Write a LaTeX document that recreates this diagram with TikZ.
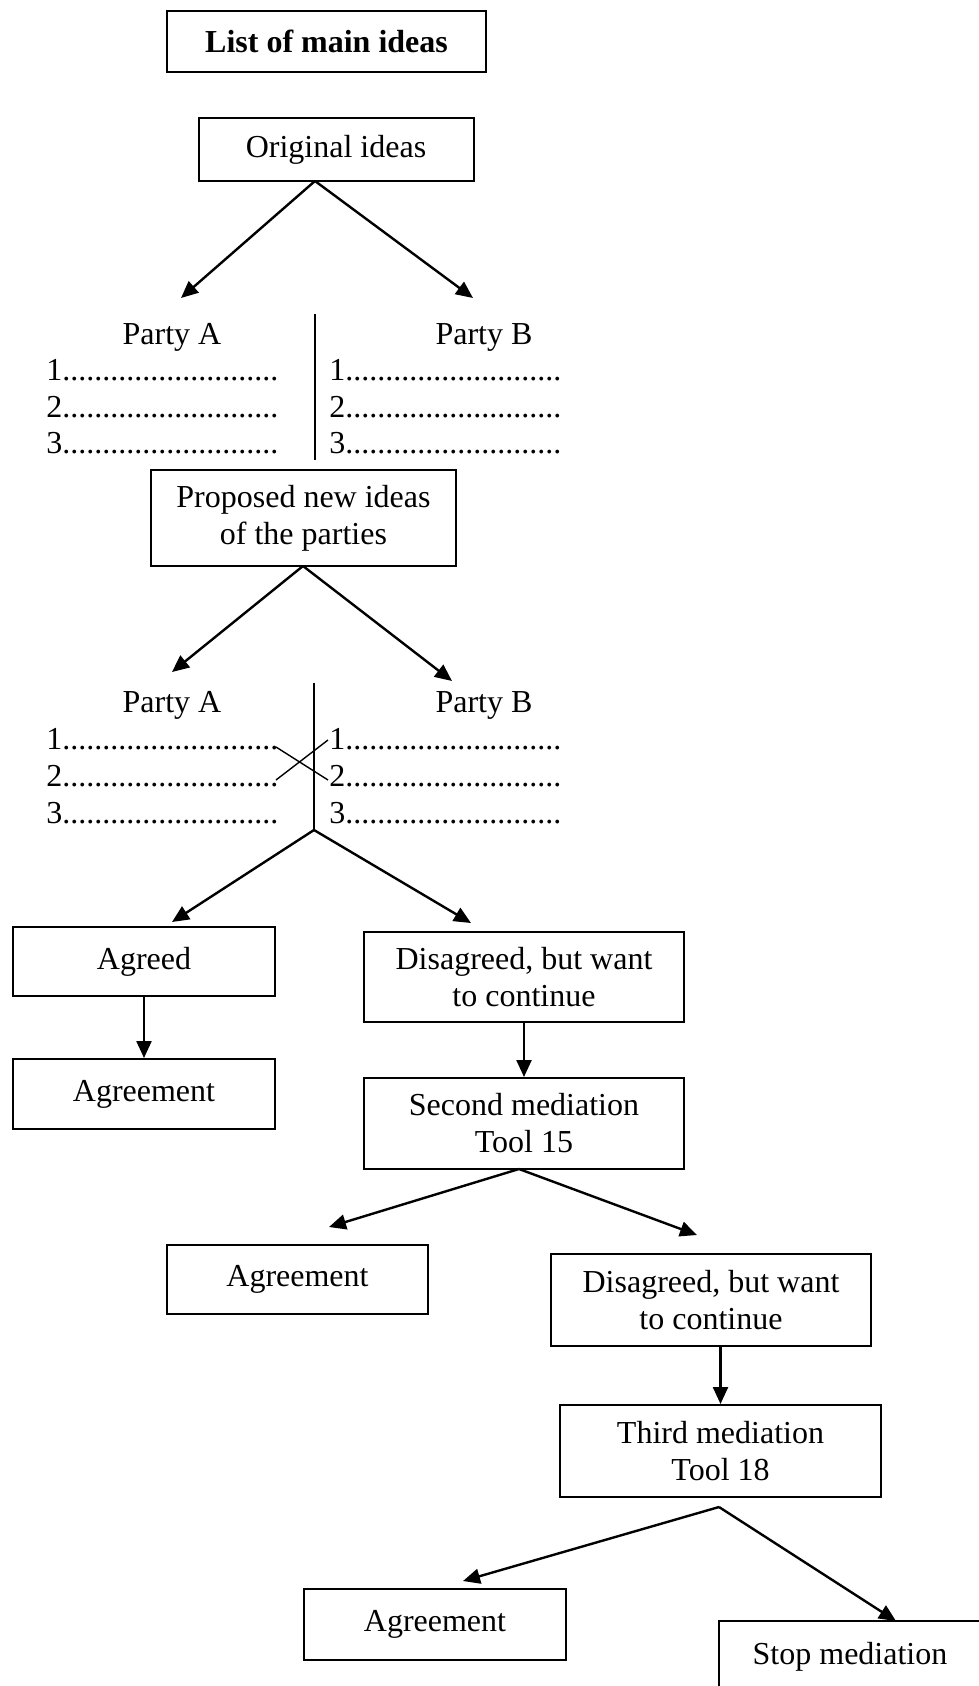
\documentclass[tikz,border=0pt]{standalone}
\usepackage{fontspec}
\setmainfont{Liberation Serif}
\usetikzlibrary{arrows.meta}
\newcommand\dotrow{...........................}
\begin{document}
\begin{tikzpicture}[x=0.5pt,y=-0.5pt,
  box/.style={draw, line width=1pt, inner sep=0pt, align=center, font=\fontsize{16}{18.5}\selectfont},
  arr/.style={line width=1.2pt, -{Triangle[length=8.5pt,width=7.5pt]}},
  ln/.style={line width=1pt},
  thin/.style={line width=0.7pt},
  txt/.style={inner sep=0pt, font=\fontsize{16}{18.5}\selectfont}]
\fill[white] (0,0) rectangle (979,1686);
\useasboundingbox (0,0) rectangle (979,1686);

% boxes
\node[box, minimum width=159.5pt, minimum height=30.5pt, font=\fontsize{16}{18.5}\selectfont\bfseries] (title) at (326.5,41.5) {List of main ideas};
\node[box, minimum width=137.5pt, minimum height=31.5pt] (orig) at (336,149.5) {Original ideas};
\node[box, minimum width=152.5pt, minimum height=48pt] (prop) at (303.5,518) {Proposed new ideas\\of the parties};
\node[box, minimum width=131pt, minimum height=34.5pt] (agreed) at (144,961.5) {Agreed};
\node[box, minimum width=160pt, minimum height=45pt] (dis1) at (524,977) {Disagreed, but want\\to continue};
\node[box, minimum width=131pt, minimum height=35pt] (agr1) at (144,1094) {Agreement};
\node[box, minimum width=160pt, minimum height=45.5pt] (second) at (524,1123.5) {Second mediation\\Tool 15};
\node[box, minimum width=130.5pt, minimum height=34.5pt] (agr2) at (297.5,1279.5) {Agreement};
\node[box, minimum width=160pt, minimum height=46pt] (dis2) at (711,1300) {Disagreed, but want\\to continue};
\node[box, minimum width=160.5pt, minimum height=46pt] (third) at (720.5,1451) {Third mediation\\Tool 18};
\node[box, minimum width=131pt, minimum height=35.5pt] (agr3) at (435,1624.5) {Agreement};
\node[box, minimum width=131pt, minimum height=35.5pt] (stop) at (850,1656.5) {Stop mediation};

% first party lists
\node[txt, anchor=base] (pa1) at (172,344) {Party A};
\node[txt, anchor=base] (pb1) at (484,344) {Party B};
\node[txt, anchor=base west] (a11) at (46,380) {1\dotrow};
\node[txt, anchor=base west] (a12) at (46,417) {2\dotrow};
\node[txt, anchor=base west] (a13) at (46,453) {3\dotrow};
\node[txt, anchor=base west] (b11) at (329,380) {1\dotrow};
\node[txt, anchor=base west] (b12) at (329,417) {2\dotrow};
\node[txt, anchor=base west] (b13) at (329,453) {3\dotrow};
\coordinate (v1t) at (315,314);
\coordinate (v1b) at (315,460);
\draw[ln] (v1t) -- (v1b);

% second party lists
\node[txt, anchor=base] (pa2) at (172,712) {Party A};
\node[txt, anchor=base] (pb2) at (484,712) {Party B};
\node[txt, anchor=base west] (a21) at (46,749) {1\dotrow};
\node[txt, anchor=base west] (a22) at (46,786) {2\dotrow};
\node[txt, anchor=base west] (a23) at (46,823) {3\dotrow};
\node[txt, anchor=base west] (b21) at (329,749) {1\dotrow};
\node[txt, anchor=base west] (b22) at (329,786) {2\dotrow};
\node[txt, anchor=base west] (b23) at (329,823) {3\dotrow};
\coordinate (v2t) at (314,683);
\coordinate (v2b) at (314,830);
\draw[ln] (v2t) -- (v2b);

% crossing lines
\coordinate (c1a) at (276,747);
\coordinate (c1b) at (328,780);
\coordinate (c2a) at (276,780);
\coordinate (c2b) at (328,740);
\draw[thin] (c1a) -- (c1b);
\draw[thin] (c2a) -- (c2b);

% arrow apexes and tips
\coordinate (o1) at (315,181);
\coordinate (t1a) at (181,298);
\coordinate (t1b) at (473,298);
\draw[arr] (o1) -- (t1a);
\draw[arr] (o1) -- (t1b);

\coordinate (o2) at (303,566);
\coordinate (t2a) at (172,672);
\coordinate (t2b) at (452,681);
\draw[arr] (o2) -- (t2a);
\draw[arr] (o2) -- (t2b);

\coordinate (t3a) at (172,922);
\coordinate (t3b) at (471,923);
\draw[arr] (v2b) -- (t3a);
\draw[arr] (v2b) -- (t3b);

\draw[arr] (agreed.south) -- (agr1.north);
\draw[arr] (dis1.south) -- (second.north);

\coordinate (o4) at (519,1169);
\coordinate (t4a) at (329,1227);
\coordinate (t4b) at (697,1235);
\draw[arr] (o4) -- (t4a);
\draw[arr] (o4) -- (t4b);

\draw[arr] (dis2.south -| third.north) -- (third.north);

\coordinate (o5) at (719,1507);
\coordinate (t5a) at (463,1581);
\coordinate (t5b) at (896,1621);
\draw[arr] (o5) -- (t5a);
\draw[arr] (o5) -- (t5b);
\end{tikzpicture}
\end{document}
